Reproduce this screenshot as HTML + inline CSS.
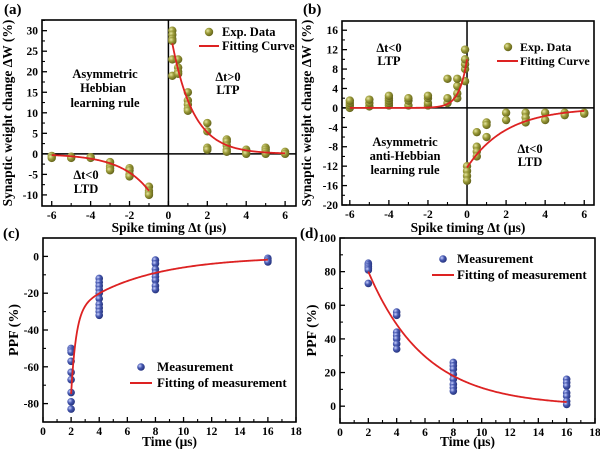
<!DOCTYPE html>
<html><head><meta charset="utf-8">
<style>
html,body{margin:0;padding:0;background:#fff;}
svg{display:block;font-family:"Liberation Serif",serif;font-weight:bold;}
</style></head>
<body>
<svg id="fig" width="600" height="450" viewBox="0 0 600 450" xmlns="http://www.w3.org/2000/svg">
<defs>
<radialGradient id="gOlive" cx="0.35" cy="0.35" r="0.7"><stop offset="0" stop-color="#e6e6a0"/><stop offset="0.45" stop-color="#9a9a38"/><stop offset="1" stop-color="#5e5e18"/></radialGradient>
<radialGradient id="gBlue" cx="0.35" cy="0.35" r="0.7"><stop offset="0" stop-color="#c8d0ff"/><stop offset="0.45" stop-color="#4658b0"/><stop offset="1" stop-color="#222f78"/></radialGradient>
</defs>
</svg>
<script>
// ---- Panel (a) data ----
const aX = [-6,-6,-5,-5,-4,-4,-3,-3,-3,-3,-2,-2,-2,-2,-1,-1,-1,-1,0.2,0.2,0.2,0.2,0.2,0.2,0.5,0.5,0.5,0.5,1,1,1,1,1,2,2,2,2,3,3,3,3,3,4,4,4,5,5,5,5,6,6];
const aY = [-0.5,-1,-0.7,-1,-0.8,-1,-2,-3,-3.5,-4,-3.5,-4,-5,-5.5,-8,-9,-9.5,-10,30,29,28,27.5,23,19,23,21,20,19.5,15,13,12,11,10.5,7.5,5.5,1.5,1,3.5,3,2,1,0.5,1,0.5,0,1.5,1,0.5,0,0.5,0];
const aFitLTD = [17.8, 1.47];   // amplitude, tau
const aFitLTP = [32.3, 1.1];
const aXTicks = [-6,-4,-2,0,2,4,6];
const aYTicks = [-10,-5,0,5,10,15,20,25,30];
// ---- Panel (b) data ----
const bX = [-6,-6,-6,-6,-5,-5,-5,-4,-4,-4,-4,-4,-3,-3,-3,-2,-2,-2,-2,-1,-1,-1,-0.5,-0.5,-0.5,-0.5,-0.1,-0.1,-0.1,-0.1,-0.1,0,0,0,0,0.5,0.5,0.5,0.5,1,1,1,2,2,3,3,3,4,4,5,5,6,6];
const bY = [0,0.5,1,1.5,0.3,1,1.7,0.5,1,1.5,2,2.5,0.5,1.5,2,0.5,1,2,2.5,1,2,6,2,3,4.5,6,5.5,8,9,10,12,-12,-13,-14,-15,-5,-8,-9,-10,-3,-3.5,-6,-1,-2.5,-1,-2,-3,-1,-2.5,-1,-1.5,-1,-1.2];
const bFitLTP = [10, 0.4];
const bFitLTD = [12.3, 2.0];
const bXTicks = [-6,-4,-2,0,2,4,6];
const bYTicks = [-20,-16,-12,-8,-4,0,4,8,12,16];
// ---- Panel (c) data ----
const cX = [2,2,2,2,2,2,2,2,2,4,4,4,4,4,4,4,4,4,4,8,8,8,8,8,8,8,8,16,16,16];
const cY = [-50,-51,-52,-57,-63,-67,-74,-79,-83,-12,-14,-16,-18,-20,-23,-26,-28,-30,-32,-2,-4,-7,-9,-11,-13,-16,-18,-1,-2,-3];
const cFit = [45, 0.35, 29.8, 5.0]; // A1,t1,A2,t2
const cXTicks = [0,2,4,6,8,10,12,14,16,18];
const cYTicks = [-80,-60,-40,-20,0];
// ---- Panel (d) data ----
const dX = [2,2,2,2,2,2,4,4,4,4,4,4,4,8,8,8,8,8,8,8,8,16,16,16,16,16,16,16];
const dY = [85,84,83,82,81,73,56,54,44,42,40,37,34,26,24,22,19,16,13,11,9,16,14,12,8,6,3,1];
const dFit = [80, 4.02];
const dXTicks = [0,2,4,6,8,10,12,14,16,18];
const dYTicks = [0,20,40,60,80,100];

const NS='http://www.w3.org/2000/svg';
const svg=document.getElementById('fig');
function mk(tag,attrs,parent){const e=document.createElementNS(NS,tag);for(const k in attrs)e.setAttribute(k,attrs[k]);(parent||svg).appendChild(e);return e;}
function txt(s,x,y,size,anchor,parent){const t=mk('text',{x:x,y:y,'font-size':size,'text-anchor':anchor||'middle',fill:'#000'},parent);t.textContent=s;return t;}

function panel(P){
  const g=mk('g',{});
  
  
  const sx=v=>P.x0+(v-P.xd[0])/(P.xd[1]-P.xd[0])*(P.x1-P.x0);
  const sy=v=>P.y1-(v-P.yd[0])/(P.yd[1]-P.yd[0])*(P.y1-P.y0);
  const xt=P.xt, yt=P.yt;
  const xStep=xt[1]-xt[0], yStep=yt[1]-yt[0];
  for(let i=0;i<xt.length;i++){
    const X=sx(xt[i]);
    mk('line',{x1:X,x2:X,y1:P.y1,y2:P.y1-5,stroke:'#000','stroke-width':1.3},g);
    const lb=txt(String(xt[i]),X,P.y1+13,11.5,'middle',g);
    
    
    const m=xt[i]+xStep/2;
    if(m<P.xd[1]){const Xm=sx(m);mk('line',{x1:Xm,x2:Xm,y1:P.y1,y2:P.y1-3,stroke:'#000','stroke-width':1.1},g);}
  }
  for(let i=0;i<yt.length;i++){
    const Y=sy(yt[i]);
    mk('line',{x1:P.x0,x2:P.x0+5,y1:Y,y2:Y,stroke:'#000','stroke-width':1.3},g);
    const lb=txt(String(yt[i]),P.x0-4,Y+4,11.5,'end',g);
    
    
    const m=yt[i]+yStep/2;
    if(m<P.yd[1]){const Ym=sy(m);mk('line',{x1:P.x0,x2:P.x0+3,y1:Ym,y2:Ym,stroke:'#000','stroke-width':1.1},g);}
  }
  if(P.cross){
    mk('line',{x1:sx(0),x2:sx(0),y1:P.y0,y2:P.y1,stroke:'#000','stroke-width':1.5},g);
    mk('line',{x1:P.x0,x2:P.x1,y1:sy(0),y2:sy(0),stroke:'#000','stroke-width':1.5},g);
  }
  for(let i=0;i<P.px.length;i++){
    const c=mk('circle',{cx:sx(P.px[i]),cy:sy(P.py[i]),r:P.r,fill:P.grad},g);
    
    
  }
  P.fits.forEach(f=>{
    let d='';
    for(let k=0;k<=200;k++){const x=f.a+(f.b-f.a)*k/200;d+=(k?'L':'M')+sx(x).toFixed(2)+','+sy(f.fn(x)).toFixed(2);}
    const p=mk('path',{d:d,fill:'none',stroke:'#dd2222','stroke-width':1.8},g);
    
    
  });
  const box=mk('rect',{x:P.x0,y:P.y0,width:P.x1-P.x0,height:P.y1-P.y0,fill:'none',stroke:'#000','stroke-width':1.6},g);
  
  
  const yl=txt(P.ytitle,0,0,P.ytsize||13,'middle',g);
  yl.setAttribute('transform','translate('+P.ytx+','+((P.y0+P.y1)/2)+') rotate(-90)');
  
  
  const xl=txt(P.xtitle,(P.x0+P.x1)/2,P.xty,13.5,'middle',g);
  
  
  const pl=txt(P.letter,P.lx,P.ly,15,'start',g);
  
  
  const L=P.leg;
  const lg=mk('g',{},g);
  
  
  mk('circle',{cx:L.mx,cy:L.my,r:P.r,fill:P.grad},lg);
  txt(L.t1,L.tx,L.my+4,L.fs,'start',lg);
  mk('line',{x1:L.l0,x2:L.l1,y1:L.ly,y2:L.ly,stroke:'#dd2222','stroke-width':2},lg);
  txt(L.t2,L.tx,L.ly+4,L.fs,'start',lg);
  (P.ann||[]).forEach(a=>{const t=txt(a[0],a[1],a[2],12.5,'middle',g);});
}

panel({name:'panel-a',x0:42,x1:296,y0:20,y1:206,xd:[-6.5,6.56],yd:[-12.7,32.6],xt:aXTicks,yt:aYTicks,cross:true,
  px:aX,py:aY,r:4.2,grad:'url(#gOlive)',
  fits:[{a:-6,b:-1,fn:x=>-aFitLTD[0]*Math.exp(x/aFitLTD[1])},{a:0.2,b:6,fn:x=>aFitLTP[0]*Math.exp(-x/aFitLTP[1])}],
  ytitle:'Synaptic weight change ΔW (%)',ytsize:13.5,ytx:12,xtitle:'Spike timing Δt (μs)',xty:232,letter:'(a)',lx:4,ly:14,
  leg:{mx:209,my:32,tx:222,l0:199,l1:219,ly:46,fs:12.5,t1:'Exp. Data',t2:'Fitting Curve'},
  ann:[['Asymmetric',105,78],['Hebbian',103,92],['learning rule',105,107],['Δt>0',228,81],['LTP',228,94],['Δt<0',86,179],['LTD',86,193]]});

panel({name:'panel-b',x0:342,x1:594,y0:21,y1:205,xd:[-6.4,6.5],yd:[-20,17.9],xt:bXTicks,yt:bYTicks,cross:true,
  px:bX,py:bY,r:4.2,grad:'url(#gOlive)',
  fits:[{a:-6,b:0,fn:x=>bFitLTP[0]*Math.exp(x/bFitLTP[1])},{a:0,b:6,fn:x=>-bFitLTD[0]*Math.exp(-x/bFitLTD[1])}],
  ytitle:'Synaptic weight change ΔW (%)',ytsize:13.5,ytx:311,xtitle:'Spike timing Δt (μs)',xty:232,letter:'(b)',lx:303,ly:14,
  leg:{mx:508,my:47,tx:520,l0:497,l1:518,ly:61,fs:12,t1:'Exp. Data',t2:'Fitting Curve'},
  ann:[['Δt<0',389,52],['LTP',389,65],['Asymmetric',405,146],['anti-Hebbian',405,160],['learning rule',405,174],['Δt<0',530,153],['LTD',530,166]]});

panel({name:'panel-c',x0:43,x1:296,y0:238,y1:422,xd:[0,18],yd:[-90,10],xt:cXTicks,yt:cYTicks,cross:false,
  px:cX,py:cY,r:3.8,grad:'url(#gBlue)',
  fits:[{a:2,b:16,fn:x=>-cFit[0]*Math.exp(-(x-2)/cFit[1])-cFit[2]*Math.exp(-(x-2)/cFit[3])}],
  ytitle:'PPF (%)',ytsize:14,ytx:18,xtitle:'Time (μs)',xty:446,letter:'(c)',lx:3,ly:238,
  leg:{mx:141,my:367,tx:157,l0:130,l1:152,ly:383,fs:13,t1:'Measurement',t2:'Fitting of measurement'}});

panel({name:'panel-d',x0:340,x1:595,y0:238,y1:423,xd:[0,18],yd:[-10,100],xt:dXTicks,yt:dYTicks,cross:false,
  px:dX,py:dY,r:3.8,grad:'url(#gBlue)',
  fits:[{a:2,b:16,fn:x=>dFit[0]*Math.exp(-(x-2)/dFit[1])}],
  ytitle:'PPF (%)',ytsize:14,ytx:316,xtitle:'Time (μs)',xty:446,letter:'(d)',lx:300,ly:238,
  leg:{mx:443,my:259,tx:457,l0:432,l1:454,ly:275,fs:13,t1:'Measurement',t2:'Fitting of measurement'}});
</script>
</body></html>
